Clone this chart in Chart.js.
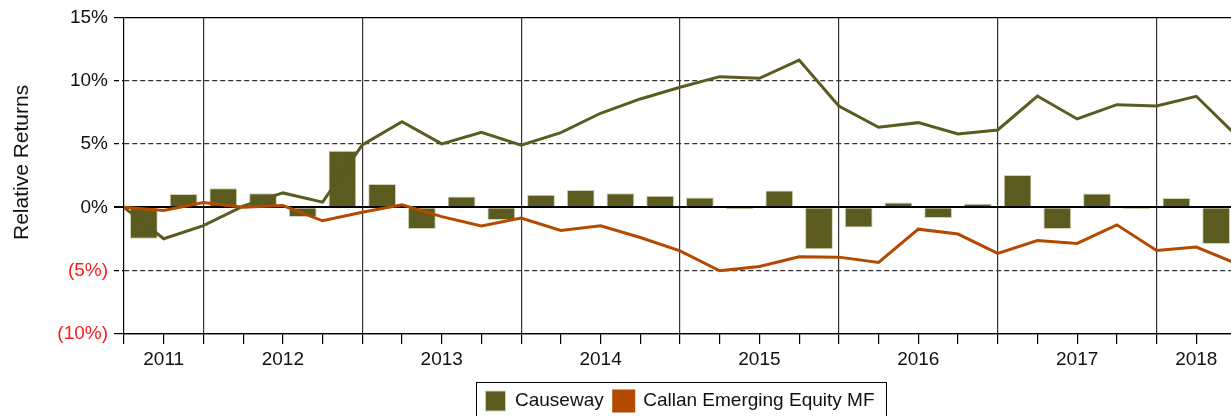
<!DOCTYPE html>
<html>
<head>
<meta charset="utf-8">
<script src="https://cdn.jsdelivr.net/npm/chart.js@4.4.1/dist/chart.umd.min.js"></script>
<style>
    html, body { margin: 0; padding: 0; overflow: hidden; background: #fff; }
    canvas { display: block; }
</style>
</head>
<body>
<canvas id="myChart" width="1240" height="430"></canvas>
<script>
// years on the axis and how many quarters of each are shown
const years = ['2011', '2012', '2013', '2014', '2015', '2016', '2017', '2018'];
const quartersPerYear = [2, 4, 4, 4, 4, 4, 4, 2];

// quarterly relative return of Causeway (bars, one per quarter)
const causewayQuarterly = [-2.48, 1.06, 1.51, 1.12, -0.77, 4.48, 1.85, -1.70, 0.85, -0.99,
    0.99, 1.38, 1.12, 0.91, 0.77, -0.14, 1.33, -3.30, -1.59, 0.38,
    -0.85, 0.28, 2.56, -1.70, 1.09, -0.12, 0.73, -2.90];

// cumulative relative returns at each quarter end (first point = start)
const causewayCumulative = [0, -2.48, -1.44, 0.10, 1.14, 0.41, 4.93, 6.77, 5.01, 5.93,
    4.91, 5.90, 7.43, 8.56, 9.48, 10.32, 10.19, 11.63, 8.00, 6.32,
    6.69, 5.80, 6.11, 8.79, 6.98, 8.11, 8.00, 8.77, 5.70];
const callanCumulative = [0, -0.25, 0.38, 0.00, 0.14, -1.06, -0.38, 0.20, -0.73, -1.46,
    -0.85, -1.83, -1.46, -2.38, -3.43, -5.01, -4.67, -3.90, -3.93, -4.35,
    -1.72, -2.11, -3.64, -2.62, -2.85, -1.38, -3.41, -3.14, -4.42];

// y axis ticks
const yTicks = [-10, -5, 0, 5, 10, 15];

const seriesNames = ['Causeway', 'Callan Emerging Equity MF'];
const axisTitle = 'Relative Returns';

const olive = '#5b5b20';
const orange = '#b34a00';
const fontFamily = '"Liberation Sans", Arial, Helvetica, sans-serif';

// year boundaries and label positions, in quarters
let yearLabelAt = {};
let yearBounds = [];
let pos = 0;
for (let i = 0; i < years.length; i++) {
    yearLabelAt[pos + quartersPerYear[i] / 2] = years[i];
    pos += quartersPerYear[i];
    if (i < years.length - 1) yearBounds.push(pos);
}
const totalQuarters = pos;

const barPoints = causewayQuarterly.map((v, i) => ({ x: i + 0.5, y: v }));
const causewayLine = causewayCumulative.map((v, i) => ({ x: i, y: v }));
const callanLine = callanCumulative.map((v, i) => ({ x: i, y: v }));

function fmtPct(v) {
    return v < 0 ? '(' + (-v) + '%)' : v + '%';
}

function isSolid(v) {
    return v === 0 || v === yTicks[yTicks.length - 1] || v === yTicks[0];
}

const frame = {
    id: 'frame',
    afterDraw(chart) {
        const ctx = chart.ctx;
        const area = chart.chartArea;

        ctx.save();
        ctx.translate(22, area.top + 145);
        ctx.rotate(-Math.PI / 2);
        ctx.font = '21px ' + fontFamily;
        ctx.fillStyle = '#111';
        ctx.textAlign = 'center';
        ctx.textBaseline = 'middle';
        ctx.fillText(axisTitle, 0, 0);
        ctx.restore();

        const hb = chart.legend.legendHitBoxes;
        if (!hb || !hb.length) return;
        const left = Math.min(...hb.map(b => b.left)) - 10;
        const right = Math.max(...hb.map(b => b.left + b.width)) + 11;
        const top = hb[0].top - 9;
        ctx.save();
        ctx.strokeStyle = '#000';
        ctx.lineWidth = 1;
        ctx.strokeRect(Math.round(left) + 0.5, Math.round(top) + 0.5, Math.round(right - left), 80);
        ctx.restore();
    }
};

Chart.defaults.font.family = fontFamily;
Chart.defaults.color = '#111';

let canvas = document.getElementById('myChart');
let ctx = canvas.getContext('2d');

let chart = new Chart(ctx, {
    type: 'bar',
    data: {
        datasets: [
            {
                type: 'bar',
                label: seriesNames[0],
                data: barPoints,
                backgroundColor: olive,
                borderColor: '#d2d2b4',
                borderWidth: 1,
                categoryPercentage: 1,
                barPercentage: 0.7,
                order: 3
            },
            {
                type: 'line',
                label: seriesNames[0] + ' cumulative',
                data: causewayLine,
                borderColor: olive,
                backgroundColor: olive,
                borderWidth: 3,
                pointRadius: 0,
                tension: 0,
                order: 2
            },
            {
                type: 'line',
                label: seriesNames[1],
                data: callanLine,
                borderColor: orange,
                backgroundColor: orange,
                borderWidth: 3,
                pointRadius: 0,
                tension: 0,
                order: 1
            }
        ]
    },
    options: {
        responsive: false,
        animation: false,
        layout: { padding: { top: 17, left: 0, right: 3, bottom: 9 } },
        plugins: {
            tooltip: { enabled: false },
            legend: {
                position: 'bottom',
                fullSize: false,
                labels: {
                    boxWidth: 20,
                    boxHeight: 20,
                    padding: 10,
                    color: '#111',
                    font: { size: 19 },
                    filter: item => item.datasetIndex !== 1,
                    sort: (a, b) => a.datasetIndex - b.datasetIndex
                }
            }
        },
        scales: {
            x: {
                type: 'linear',
                min: 0,
                max: totalQuarters,
                offset: false,
                afterFit: scale => { scale.height = 47; },
                grid: {
                    offset: false,
                    drawOnChartArea: true,
                    color: c => (c.tick && yearBounds.includes(c.tick.value)) ? '#333' : 'rgba(0,0,0,0)',
                    lineWidth: 1.2,
                    tickColor: '#000',
                    tickLength: 10
                },
                border: { display: true, color: '#000', width: 1.2 },
                ticks: {
                    stepSize: 1,
                    autoSkip: false,
                    maxRotation: 0,
                    padding: 4,
                    font: { size: 19 },
                    color: '#111',
                    callback: v => yearLabelAt[v] || ''
                }
            },
            y: {
                min: yTicks[0],
                max: yTicks[yTicks.length - 1],
                afterFit: scale => { scale.width = 124; },
                afterBuildTicks: scale => { scale.ticks = yTicks.map(v => ({ value: v })); },
                grid: {
                    color: c => (!c.tick || isSolid(c.tick.value)) ? '#000' : '#333',
                    lineWidth: c => (c.tick && c.tick.value === 0) ? 2 : 1.2,
                    tickColor: '#000',
                    tickLength: 10,
                    tickBorderDash: c => (c.tick && !isSolid(c.tick.value)) ? [5, 3] : []
                },
                border: {
                    display: true,
                    color: '#000',
                    width: 1.2,
                    dash: c => (c.tick && !isSolid(c.tick.value)) ? [5, 3] : []
                },
                ticks: {
                    padding: 6,
                    font: { size: 19 },
                    color: c => (c.tick && c.tick.value < 0) ? '#ff1a1a' : '#111',
                    callback: v => fmtPct(v)
                }
            }
        }
    },
    plugins: [frame]
});
</script>
</body>
</html>
